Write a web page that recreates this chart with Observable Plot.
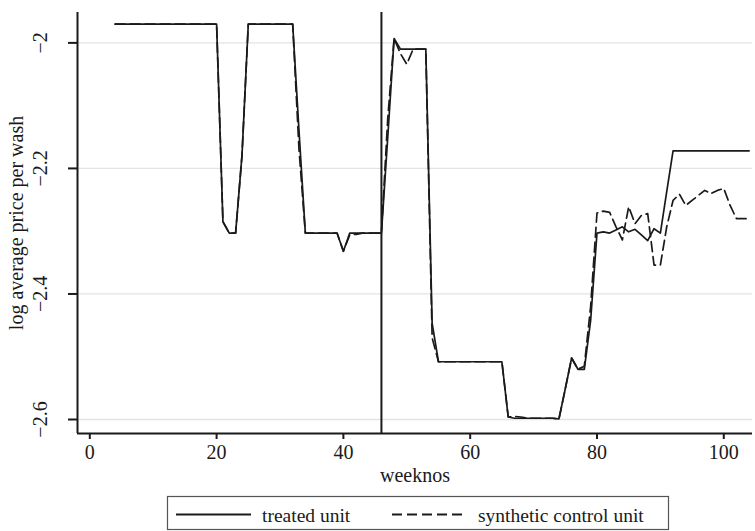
<!DOCTYPE html>
<html><head><meta charset="utf-8">
<script src="https://cdn.jsdelivr.net/npm/d3@7"></script>
<script src="https://cdn.jsdelivr.net/npm/@observablehq/plot@0.6"></script>
<style>
body{margin:0;background:#fff;font-family:"Liberation Serif",serif;}
#wrap{position:relative;width:755px;height:531px;overflow:hidden;}
#legend{position:absolute;left:0;top:490px;}
</style></head><body><div id="wrap"></div>
<script>
const weeks = [4,5,6,7,8,9,10,11,12,13,14,15,16,17,18,19,20,
  21,22,23,24,25,26,27,28,29,30,31,32,33,34,35,36,37,38,39,40,
  41,42,43,44,45,46,47,48,49,50,51,52,53,54,55,56,57,58,59,60,
  61,62,63,64,65,66,67,68,69,70,71,72,73,74,75,76,77,78,79,80,
  81,82,83,84,85,86,87,88,89,90,91,92,93,94,95,96,97,98,99,100,
  101,102,103,104];
const treated = [-1.97,-1.97,-1.97,-1.97,-1.97,-1.97,-1.97,-1.97,-1.97,-1.97,-1.97,-1.97,-1.97,-1.97,-1.97,-1.97,-1.97,
  -2.285,-2.303,-2.303,-2.18,-1.97,-1.97,-1.97,-1.97,-1.97,-1.97,-1.97,-1.97,-2.14,-2.303,-2.303,-2.303,-2.303,-2.303,-2.303,-2.332,
  -2.303,-2.303,-2.303,-2.303,-2.303,-2.303,-2.15,-1.993,-2.01,-2.01,-2.01,-2.01,-2.01,-2.447,-2.508,-2.508,-2.508,-2.508,-2.508,-2.508,
  -2.508,-2.508,-2.508,-2.508,-2.508,-2.596,-2.598,-2.598,-2.598,-2.598,-2.598,-2.598,-2.598,-2.599,-2.551,-2.502,-2.52,-2.52,-2.442,-2.303,
  -2.301,-2.303,-2.298,-2.293,-2.301,-2.297,-2.306,-2.315,-2.296,-2.303,-2.237,-2.172,-2.172,-2.172,-2.172,-2.172,-2.172,-2.172,-2.172,-2.172,
  -2.172,-2.172,-2.172,-2.172];
const synthetic = [-1.97,-1.97,-1.97,-1.97,-1.97,-1.97,-1.97,-1.97,-1.97,-1.97,-1.97,-1.97,-1.97,-1.97,-1.97,-1.97,-1.97,
  -2.285,-2.303,-2.303,-2.18,-1.97,-1.97,-1.97,-1.97,-1.97,-1.97,-1.97,-1.97,-2.17,-2.303,-2.303,-2.303,-2.303,-2.303,-2.303,-2.332,
  -2.306,-2.305,-2.303,-2.303,-2.303,-2.303,-2.12,-1.993,-2.017,-2.034,-2.01,-2.01,-2.01,-2.47,-2.508,-2.508,-2.508,-2.508,-2.508,-2.508,
  -2.508,-2.508,-2.508,-2.508,-2.508,-2.596,-2.595,-2.596,-2.598,-2.598,-2.598,-2.598,-2.598,-2.599,-2.551,-2.502,-2.52,-2.515,-2.42,-2.271,
  -2.268,-2.27,-2.293,-2.314,-2.261,-2.288,-2.275,-2.272,-2.354,-2.354,-2.293,-2.251,-2.241,-2.259,-2.251,-2.243,-2.235,-2.24,-2.235,-2.232,
  -2.259,-2.28,-2.28,-2.28];
const xTicks = [0,20,40,60,80,100];
const yTicks = [-2,-2.2,-2.4,-2.6];
const treatmentWeek = [46];
const seriesNames = ["treated unit","synthetic control unit"];
const xLabel = "weeknos";
const yLabel = "log average price per wash";

const rows = weeks.map((w,i)=>({week:w, treated:treated[i], synthetic:synthetic[i]}));
const xDomain = [-1.94, 104.53];
const yDomain = [-2.6223, -1.9516];
const fmt = d3.format("~g");
const ink = "#1a1a1a";

const plot = Plot.plot({
  width: 755, height: 490,
  marginLeft: 77, marginRight: 3, marginTop: 12, marginBottom: 57,
  x: {domain: xDomain},
  y: {domain: yDomain},
  style: {fontFamily: "'Liberation Serif', serif", fontSize: "20px", color: ink, background: "white"},
  marks: [
    Plot.gridY(yTicks, {stroke: "#e3e3e3", strokeOpacity: 1, strokeWidth: 1.3}),
    Plot.lineY(rows, {x: "week", y: "synthetic", stroke: ink, strokeWidth: 1.7, strokeDasharray: "10,5"}),
    Plot.lineY(rows, {x: "week", y: "treated", stroke: ink, strokeWidth: 1.7}),
    Plot.ruleX(treatmentWeek, {stroke: ink, strokeWidth: 2}),
    Plot.ruleX([xDomain[0]], {stroke: ink, strokeWidth: 2}),
    Plot.ruleY([yDomain[0]], {stroke: ink, strokeWidth: 2}),
    Plot.axisX({ticks: xTicks, tickSize: 6, tickPadding: 5, label: null, strokeWidth: 2, stroke: ink}),
    Plot.axisY({ticks: yTicks, tickSize: 9, tickPadding: 22, tickRotate: -90, tickFormat: fmt, label: null, strokeWidth: 2, stroke: ink}),
    Plot.text([xLabel], {frameAnchor: "bottom", dy: 42, lineAnchor: "middle", text: d => d, fontSize: 20, fill: ink}),
    Plot.text([yLabel], {frameAnchor: "left", dx: -61, rotate: -90, textAnchor: "middle", lineAnchor: "middle", text: d => d, fontSize: 20, fill: ink})
  ]
});
const wrap = document.getElementById("wrap");
wrap.appendChild(plot);

const legend = document.createElement("div");
legend.id = "legend";
legend.innerHTML = `<svg width="755" height="41" font-family="'Liberation Serif', serif" font-size="19.5">
  <rect x="167.5" y="6.5" width="501" height="33" fill="white" stroke="#555" stroke-width="1.2"/>
  <line x1="176" x2="251" y1="24.5" y2="24.5" stroke="${ink}" stroke-width="1.8"/>
  <text x="262" y="31.5" fill="${ink}">${seriesNames[0]}</text>
  <line x1="392" x2="466" y1="24.5" y2="24.5" stroke="${ink}" stroke-width="1.8" stroke-dasharray="10,5"/>
  <text x="478" y="31.5" fill="${ink}">${seriesNames[1]}</text>
</svg>`;
wrap.appendChild(legend);
</script></body></html>
